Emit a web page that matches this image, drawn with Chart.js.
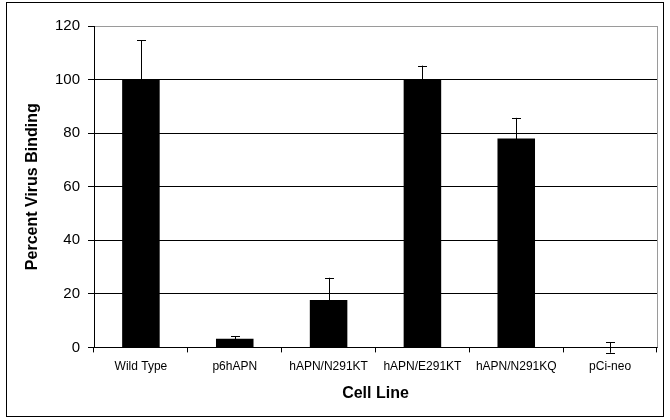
<!DOCTYPE html>
<html>
<head>
<meta charset="utf-8">
<script src="https://cdn.jsdelivr.net/npm/chart.js@4/dist/chart.umd.min.js"></script>
<style>
  html, body { margin: 0; padding: 0; background: #fff; }
  #wrap { width: 670px; height: 420px; position: relative; }
</style>
</head>
<body>
<div id="wrap"><canvas id="chart"></canvas></div>
<script>
// datos
const lineas = ["Wild Type", "p6hAPN", "hAPN/N291KT", "hAPN/E291KT", "hAPN/N291KQ", "pCi-neo"];
const binding = [100, 3.2, 17.7, 100, 78, 0];
const errores = [14.6, 1.0, 8.3, 5.2, 7.7, 2.0];
const yTicks = [0, 20, 40, 60, 80, 100, 120];

// ------------------------------------------------------------
// barras de error + marco exterior
// ------------------------------------------------------------
const errorBars = {
  id: "errorBars",
  afterDatasetsDraw(chart) {
    const { ctx, scales: { y } } = chart;
    const meta = chart.getDatasetMeta(0);
    ctx.save();
    ctx.strokeStyle = "#000";
    ctx.lineWidth = 1;
    meta.data.forEach((bar, i) => {
      const x = Math.round(bar.x) + 0.5;
      const hi = y.getPixelForValue(binding[i] + errores[i]);
      const lo = y.getPixelForValue(binding[i] - errores[i]);
      ctx.beginPath();
      ctx.moveTo(x, lo);
      ctx.lineTo(x, hi);
      ctx.moveTo(x - 4.5, Math.round(hi) + 0.5);
      ctx.lineTo(x + 4.5, Math.round(hi) + 0.5);
      if (binding[i] - errores[i] < 0) {
        ctx.moveTo(x - 4.5, Math.round(lo) + 0.5);
        ctx.lineTo(x + 4.5, Math.round(lo) + 0.5);
      }
      ctx.stroke();
    });
    ctx.restore();
  },
  afterDraw(chart) {
    const { ctx, chartArea } = chart;
    ctx.save();
    ctx.lineWidth = 1;
    // borde derecho gris del área
    ctx.strokeStyle = "#9a9a9a";
    ctx.beginPath();
    ctx.moveTo(Math.round(chartArea.right) + 0.5, chartArea.top);
    ctx.lineTo(Math.round(chartArea.right) + 0.5, chartArea.bottom);
    ctx.stroke();
    // marco
    ctx.strokeStyle = "#000";
    ctx.strokeRect(6.5, 2.5, 657, 414);
    ctx.restore();
  }
};

new Chart(document.getElementById("chart"), {
  type: "bar",
  data: {
    labels: lineas,
    datasets: [{
      data: binding,
      backgroundColor: "#000",
      borderWidth: 0,
      barPercentage: 0.4,
      categoryPercentage: 1
    }]
  },
  options: {
    responsive: true,
    maintainAspectRatio: false,
    animation: false,
    layout: { padding: { left: 12, right: 13, top: 26, bottom: 15 } },
    plugins: {
      legend: { display: false },
      tooltip: { enabled: false }
    },
    scales: {
      x: {
        offset: true,
        grid: {
          offset: true,
          drawOnChartArea: false,
          drawTicks: true,
          tickLength: 5,
          color: "#000"
        },
        border: { display: true, color: "#000" },
        ticks: {
          color: "#000",
          padding: 7,
          maxRotation: 0,
          autoSkip: false,
          font: { family: "Liberation Sans, Arial, sans-serif", size: 12 }
        },
        title: {
          display: true,
          text: "Cell Line",
          color: "#000",
          padding: { top: 3, bottom: 2 },
          font: { family: "Liberation Sans, Arial, sans-serif", size: 16, weight: "bold" }
        }
      },
      y: {
        min: 0,
        max: 120,
        afterBuildTicks(scale) {
          scale.ticks = yTicks.map((v) => ({ value: v }));
        },
        afterFit(scale) {
          scale.width = 82;
        },
        grid: {
          color: (c) => (c.tick && c.tick.value === 120 ? "#9a9a9a" : "#000"),
          tickColor: "#000",
          tickLength: 6,
          lineWidth: 1
        },
        border: { display: true, color: "#000" },
        ticks: {
          color: "#000",
          padding: 8,
          font: { family: "Liberation Sans, Arial, sans-serif", size: 15 }
        },
        title: {
          display: true,
          text: "Percent Virus Binding",
          color: "#000",
          padding: { top: 11, bottom: 4 },
          font: { family: "Liberation Sans, Arial, sans-serif", size: 16, weight: "bold" }
        }
      }
    }
  },
  plugins: [errorBars]
});
</script>
</body>
</html>
